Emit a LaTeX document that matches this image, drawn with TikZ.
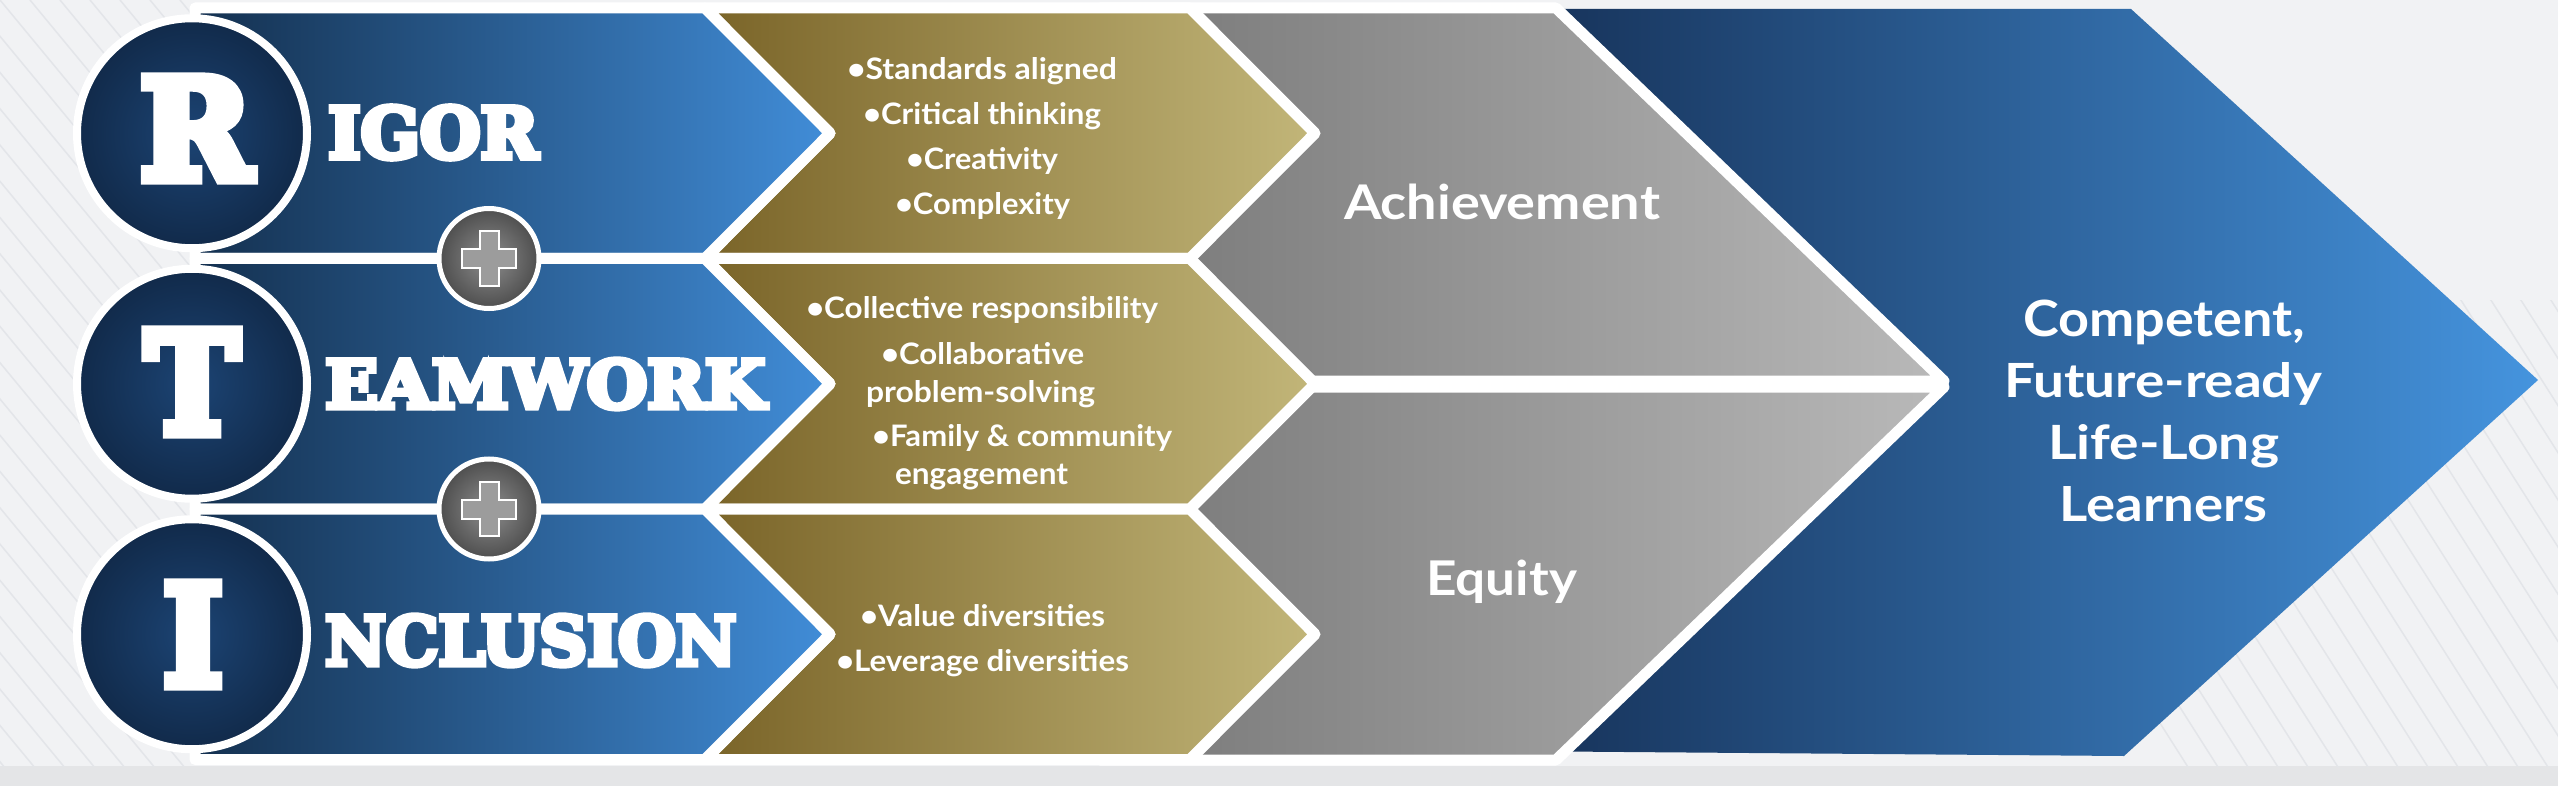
\documentclass[tikz,border=0pt]{standalone}
\usepackage{graphicx}
\usepackage{fontspec}
\setmainfont{Lato}
\newfontfamily\slab[FakeBold=8]{DejaVu Serif Bold}
\newcommand{\fitline}[3]{\resizebox{#1pt}{#2pt}{\vphantom{E}#3}}
\definecolor{bgcol}{HTML}{F1F2F4}
\definecolor{bgbot}{HTML}{E4E5E7}
\definecolor{bgline}{HTML}{E3E5E9}
\definecolor{bluedark}{HTML}{14304F}
\definecolor{bluelight}{HTML}{418DD8}
\definecolor{golddark}{HTML}{7A6428}
\definecolor{goldlight}{HTML}{C2B679}
\definecolor{graydark}{HTML}{777777}
\definecolor{graylight}{HTML}{B9B9B9}
\definecolor{circin}{HTML}{1C4474}
\definecolor{circout}{HTML}{112A4A}
\definecolor{pluin}{HTML}{8E8E8E}
\definecolor{pluout}{HTML}{4E4E4E}
\definecolor{crossfill}{HTML}{9C9C9C}
\definecolor{bigdark}{HTML}{152F55}
\definecolor{biglight}{HTML}{4594DE}
\begin{document}
\begin{tikzpicture}[x=1pt,y=-1pt,
  edge/.style={draw=white,line width=11pt,line join=round},
  blueband/.style={edge,left color=bluedark,right color=bluelight},
  goldband/.style={edge,left color=golddark,right color=goldlight},
  grayband/.style={edge,left color=graydark,right color=graylight},
  bigarrow/.style={left color=bigdark,right color=biglight},
  lettercircle/.style={circle,draw=white,line width=8pt,minimum size=230pt,inner sep=0pt,inner color=circin,outer color=circout},
  pluscircle/.style={circle,draw=white,line width=5pt,minimum size=100pt,inner sep=0pt,inner color=pluin,outer color=pluout},
  crossshape/.style={fill=crossfill,draw=white,line width=2pt},
  bigletter/.style={text=white,inner sep=0pt,font=\slab},
  gtext/.style={text=white,inner sep=0pt,anchor=base,font=\fontsize{30}{34}\selectfont\bfseries},
  mtext/.style={text=white,inner sep=0pt,anchor=base,font=\fontsize{49}{58}\selectfont\bfseries},
  rtext/.style={text=white,inner sep=0pt,anchor=base,font=\fontsize{49}{62}\selectfont\bfseries}
]
\useasboundingbox (0,0) rectangle (2558,786);
% background
\fill[bgcol] (0,0) rectangle (2558,786);
\fill[bgbot] (0,766) rectangle (2558,786);
\begin{scope}
  \clip (0,0) rectangle (190,766);
  \foreach \i in {-900,-870,...,200} \draw[bgline,line width=1.5pt] (\i,0) -- (\i+650,786);
\end{scope}
\begin{scope}
  \clip (2150,300) rectangle (2558,766);
  \foreach \i in {1700,1730,...,2600} \draw[bgline,line width=1.5pt] (\i,0) -- (\i+500,786);
\end{scope}
% big arrow
\path[bigarrow] (1500,9) -- (2131,9) -- (2538,380) -- (2124,756) -- (1500,751) -- cycle;
% gray shapes
\path[grayband] (1100,8) -- (1556,8) -- (1944,381) -- (1100,381) -- cycle;
\path[grayband] (1100,387) -- (1944,387) -- (1556,760) -- (1100,760) -- cycle;
% gold and blue rows
\foreach \k in {0,1,2}{
  \pgfmathsetmacro{\T}{8+250.5*\k}
  \pgfmathsetmacro{\B}{\T+250.5}
  \pgfmathsetmacro{\C}{\T+125.25}
  \path[goldband] (705,\T) -- (1190,\T) -- (1315,\C) -- (1190,\B) -- (705,\B) -- (830,\C) -- cycle;
  \path[blueband] (195,\T) -- (705,\T) -- (830,\C) -- (705,\B) -- (195,\B) -- cycle;
}
% letter circles
\node[lettercircle] (cR) at (192,133.25) {};
\node[lettercircle] (cT) at (192,383.75) {};
\node[lettercircle] (cI) at (192,634.25) {};
% plus circles
\node[pluscircle] (p1) at (489,258.5) {};
\node[pluscircle] (p2) at (489,509) {};
\foreach \p in {p1,p2}{
  \begin{scope}[shift={(\p.center)}]
    \path[crossshape] (-9.5,-27) -- (9.5,-27) -- (9.5,-9.5) -- (27,-9.5) -- (27,9.5) -- (9.5,9.5) -- (9.5,27) -- (-9.5,27) -- (-9.5,9.5) -- (-27,9.5) -- (-27,-9.5) -- (-9.5,-9.5) -- cycle;
  \end{scope}
}
% big letters and words
\node[bigletter,anchor=base] (lR) at (196,179) {\resizebox{112pt}{101pt}{R}};
\node[bigletter,anchor=base] (lT) at (192,433) {\resizebox{94pt}{102pt}{T}};
\node[bigletter,anchor=base] (lI) at (193,685) {\resizebox{60pt}{101pt}{I}};
\node[bigletter,anchor=base west] (wR) at (328,158) {\resizebox{210pt}{52pt}{IGOR}};
\node[bigletter,anchor=base west] (wT) at (325,408) {\resizebox{440pt}{49pt}{EAMWORK}};
\node[bigletter,anchor=base west] (wI) at (325,665) {\resizebox{411pt}{50pt}{NCLUSION}};
% gold texts
\node[gtext] (g11) at (982,80) {\fitline{270}{22}{•Standards aligned}};
\node[gtext] (g12) at (982,125) {\fitline{238}{22}{•Critical thinking}};
\node[gtext] (g13) at (982,170) {\fitline{152}{22}{•Creativity}};
\node[gtext] (g14) at (982.5,215) {\fitline{175}{22}{•Complexity}};
\node[gtext] (g21) at (982,318.5) {\fitline{352}{22}{•Collective responsibility}};
\node[gtext] (g22) at (982.5,364) {\fitline{203}{22}{•Collaborative}};
\node[gtext] (g23) at (980.5,402.5) {\fitline{229}{22}{problem-solving}};
\node[gtext] (g24) at (1022,446) {\fitline{300}{22}{•Family \& community}};
\node[gtext] (g25) at (981.5,484) {\fitline{173}{22}{engagement}};
\node[gtext] (g31) at (982.5,626) {\fitline{245}{22}{•Value diversities}};
\node[gtext] (g32) at (982.5,671) {\fitline{293}{22}{•Leverage diversities}};
% middle texts
\node[mtext] (ach) at (1502,220) {\fitline{316}{35.5}{Achievement}};
\node[mtext] (equ) at (1501.5,595) {\fitline{151}{35.5}{Equity}};
% right texts
\node[rtext] (r1) at (2164,336) {\fitline{282}{36.5}{Competent,}};
\node[rtext] (r2) at (2163,397.5) {\fitline{318}{35}{Future-ready}};
\node[rtext] (r3) at (2163.5,459) {\fitline{231}{35}{Life-Long}};
\node[rtext] (r4) at (2163.5,521.5) {\fitline{208}{35}{Learners}};
\end{tikzpicture}
\end{document}
